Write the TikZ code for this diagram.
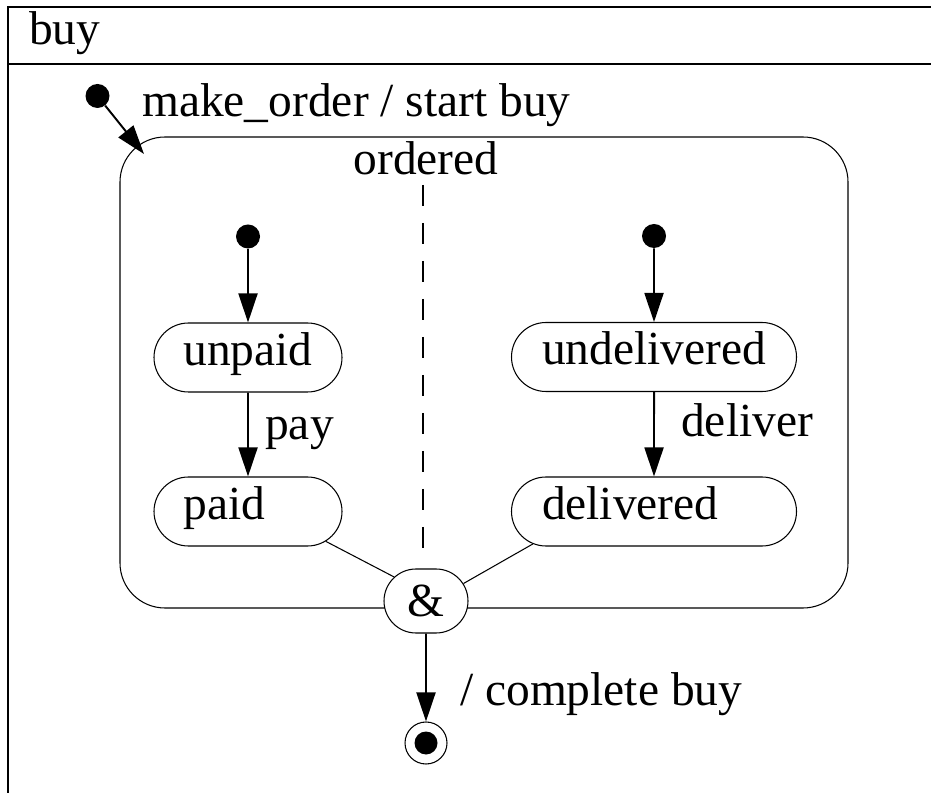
\documentclass[tikz,border=0pt]{standalone}
\usepackage{fontspec}
\setmainfont{Liberation Serif}
\usetikzlibrary{arrows.meta,shapes.misc}

\tikzset{
  state/.style={draw, rounded rectangle, line width=0.6pt, minimum height=1.38cm, inner xsep=0pt, text height=0.5cm, text depth=0.18cm, align=left},
  startdot/.style={circle, fill, inner sep=0pt, minimum size=0.48cm},
  trans/.style={-{Triangle[length=0.58cm,width=0.38cm]}, line width=1.1pt},
}

\begin{document}
\begin{tikzpicture}[font=\fontsize{27}{32}\selectfont]
    \useasboundingbox (0,0) rectangle (18.62,-15.86);
    \draw[line width=1.1pt] (0.16,-15.86) -- (0.16,-0.14) -- (18.62,-0.14);
    \draw[line width=1.1pt] (0.16,-1.28) -- (18.62,-1.28);
    \node[anchor=base west] (title) at (0.46,-0.9) {buy};

    \node[draw, line width=0.6pt, rounded corners=0.9cm, minimum width=14.56cm, minimum height=9.42cm] (ordered) at (9.68,-7.45) {};
    \node[anchor=base] (orderedlbl) at (8.52,-3.5) {ordered};
    \node[startdot] (init) at (1.95,-1.92) {};
    \coordinate (entry) at (2.88,-3.08);
    \draw[trans] (init) -- (entry);
    \node[anchor=base west] (makeorder) at (2.72,-2.34) {make\_order / start buy};

    \coordinate (divtop) at (8.46,-3.7);
    \coordinate (divbot) at (8.46,-11.2);
    \draw[dash pattern=on 0.42cm off 0.34cm, line width=0.9pt] (divtop) -- (divbot);

    \node[startdot] (initl) at (4.96,-4.73) {};
    \node[state, text width=2.58cm, minimum width=3.76cm] (unpaid) at (4.96,-7.15) {unpaid};
    \node[state, text width=2.58cm, minimum width=3.76cm] (paid) at (4.96,-10.23) {paid};
    \node[startdot] (initr) at (13.08,-4.72) {};
    \node[state, text width=4.48cm, minimum width=5.7cm] (undelivered) at (13.08,-7.14) {undelivered};
    \node[state, text width=4.48cm, minimum width=5.7cm] (delivered) at (13.08,-10.23) {delivered};

    \draw[trans] (initl) -- (unpaid);
    \draw[trans] (unpaid) -- (paid);
    \node[anchor=base west] (paylbl) at (5.18,-8.8) {pay};
    \draw[trans] (initr) -- (undelivered);
    \draw[trans] (undelivered) -- (delivered);
    \node[anchor=base west] (deliverlbl) at (13.5,-8.74) {deliver};

    \node[draw, rounded rectangle, fill=white, line width=0.6pt, minimum width=1.68cm, minimum height=1.28cm, inner sep=0pt] (and) at (8.52,-12.02) {\&};
    \draw[line width=0.6pt] (paid.-21) -- (and.143);
    \draw[line width=0.6pt] (delivered.195) -- (and.25);

    \node[draw, circle, line width=0.6pt, minimum size=0.84cm, inner sep=0pt] (final) at (8.52,-14.86) {};
    \node[startdot, minimum size=0.46cm] (finaldot) at (final) {};
    \draw[trans] (and) -- (final);
    \node[anchor=base west] (completelbl) at (9.08,-14.1) {/ complete buy};
\end{tikzpicture}
\end{document}
